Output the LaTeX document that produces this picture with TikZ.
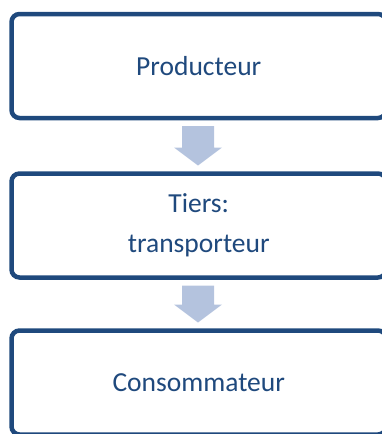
\documentclass[tikz,border=0pt]{standalone}
\usepackage{fontspec}
\setmainfont{Carlito}
\usetikzlibrary{calc}
\definecolor{boxblue}{HTML}{1F497D}
\definecolor{arrowblue}{HTML}{B4C3DE}
\tikzset{
  stagebox/.style={draw=boxblue, line width=4.5pt, rounded corners=8pt, fill=white,
    minimum width=374.5pt, minimum height=104pt, outer sep=0pt, inner sep=0pt,
    align=center, text=boxblue, font=\fontsize{27.5}{40}\selectfont},
  fatarrow/.style={fill=arrowblue, draw=none}
}
\newcommand\flowarrow[2]{%
  \coordinate (s) at ($(#1.south)+(-0.75,-8)$);
  \coordinate (t) at ($(#2.north)+(-0.75,8)$);
  \fill[fatarrow] ($(s)+(-16,0)$) -- ($(s)+(16,0)$) -- ($(t)+(16,18)$) -- ($(t)+(24,18)$)
    -- (t) -- ($(t)+(-24,18)$) -- ($(t)+(-16,18)$) -- cycle;
}
\begin{document}
\begin{tikzpicture}[x=1pt,y=1pt]
\useasboundingbox (0,-434) rectangle (382,0);
\clip (0,-434) rectangle (382,0);
\node[stagebox] (b1) at (198.75,-66) {Producteur};
\node[stagebox] (b2) at (198.75,-225.5) {Tiers:\\transporteur};
\node[stagebox] (b3) at (198.75,-382.5) {Consommateur};
\flowarrow{b1}{b2}
\flowarrow{b2}{b3}
\end{tikzpicture}
\end{document}
